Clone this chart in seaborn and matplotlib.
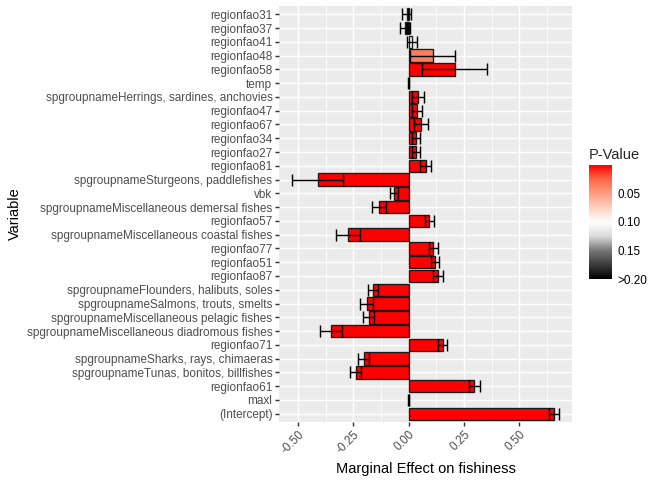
import numpy as np
import pandas as pd
import matplotlib
matplotlib.use("Agg")
import matplotlib.pyplot as plt
import seaborn as sns
from matplotlib.colors import LinearSegmentedColormap, Normalize
from matplotlib.cm import ScalarMappable

# ------------------------------------------------------------
# Data (top of the chart first)
# ------------------------------------------------------------
variables = [
    "regionfao31",
    "regionfao37",
    "regionfao41",
    "regionfao48",
    "regionfao58",
    "temp",
    "spgroupnameHerrings, sardines, anchovies",
    "regionfao47",
    "regionfao67",
    "regionfao34",
    "regionfao27",
    "regionfao81",
    "spgroupnameSturgeons, paddlefishes",
    "vbk",
    "spgroupnameMiscellaneous demersal fishes",
    "regionfao57",
    "spgroupnameMiscellaneous coastal fishes",
    "regionfao77",
    "regionfao51",
    "regionfao87",
    "spgroupnameFlounders, halibuts, soles",
    "spgroupnameSalmons, trouts, smelts",
    "spgroupnameMiscellaneous pelagic fishes",
    "spgroupnameMiscellaneous diadromous fishes",
    "regionfao71",
    "spgroupnameSharks, rays, chimaeras",
    "spgroupnameTunas, bonitos, billfishes",
    "regionfao61",
    "maxl",
    "(Intercept)",
]
estimates = [-0.008, -0.017, 0.016, 0.108, 0.209, 0.0, 0.041, 0.037, 0.055, 0.034,
             0.033, 0.076, -0.411, -0.066, -0.136, 0.094, -0.275, 0.111, 0.119, 0.132,
             -0.161, -0.189, -0.181, -0.353, 0.154, -0.204, -0.240, 0.296, 0.0, 0.656]
std_errors = [0.020, 0.022, 0.022, 0.102, 0.147, 0.001, 0.027, 0.022, 0.031, 0.019,
              0.017, 0.025, 0.115, 0.018, 0.032, 0.022, 0.055, 0.021, 0.020, 0.021,
              0.024, 0.029, 0.026, 0.050, 0.020, 0.025, 0.025, 0.025, 0.001, 0.022]
p_values = [0.60, 0.45, 0.10, 0.035, 0.0, 0.0, 0.0, 0.0, 0.0, 0.0,
            0.0, 0.0, 0.0, 0.0, 0.0, 0.0, 0.0, 0.0, 0.0, 0.0,
            0.0, 0.0, 0.0, 0.0, 0.0, 0.0, 0.0, 0.0, 0.0, 0.0]

df = pd.DataFrame({"Variable": variables, "Estimate": estimates,
                   "SE": std_errors, "P": p_values})

# red -> white -> black, roughly like ggplot's Lab gradient, p squished at 0.20
cmap = LinearSegmentedColormap.from_list("pval", [
    (0.0, "#FF0000"), (0.125, "#FF6846"), (0.25, "#FF9E82"), (0.375, "#FFD0BF"),
    (0.5, "#FFFFFF"), (0.625, "#DBDBDB"), (0.75, "#777777"), (0.875, "#3B3B3B"),
    (1.0, "#000000")])
norm = Normalize(0, 0.2)
palette = {v: cmap(norm(min(p, 0.2))) for v, p in zip(df["Variable"], df["P"])}

sns.set_theme(style="darkgrid")
plt.rcParams["font.family"] = ["Liberation Sans", "DejaVu Sans"]

fig = plt.figure(figsize=(7, 5), dpi=96)
ax = fig.add_axes([279 / 672, 1 - 422 / 480, (572 - 279) / 672, (422 - 6) / 480])
ax.set_facecolor("#EBEBEB")

sns.barplot(data=df, x="Estimate", y="Variable", hue="Variable", palette=palette,
            order=variables, orient="h", dodge=False, errorbar=None, legend=False,
            width=0.9, edgecolor="#1A1A1A", linewidth=1.0, saturation=1, ax=ax)

pos = np.arange(len(variables))
ax.errorbar(df["Estimate"], pos, xerr=df["SE"], fmt="none", ecolor="black",
            elinewidth=1.07, capsize=4.4, capthick=1.07, zorder=4)

# ggplot-like limits (5% expansion)
lo = min(0, (df["Estimate"] - df["SE"]).min())
hi = max(0, (df["Estimate"] + df["SE"]).max())
span = hi - lo
ax.set_xlim(lo - 0.05 * span, hi + 0.05 * span)
ax.set_ylim(len(variables) - 0.4, -0.6)

ax.set_xticks([-0.5, -0.25, 0.0, 0.25, 0.5])
ax.set_xticklabels(["-0.50", "-0.25", "0.00", "0.25", "0.50"], rotation=45,
                   ha="right", va="top", rotation_mode="anchor")
ax.set_xticks([-0.375, -0.125, 0.125, 0.375, 0.625], minor=True)
ax.set_axisbelow(True)
ax.grid(which="major", color="white", linewidth=1.07)
ax.grid(which="minor", axis="x", color="white", linewidth=0.53)
for s in ax.spines.values():
    s.set_visible(False)
ax.tick_params(axis="both", which="major", length=2.75, width=1.07, color="#333333",
               labelsize=8.8, labelcolor="#4D4D4D", pad=2.2, bottom=True, left=True)
ax.tick_params(axis="x", which="minor", length=0)

ax.set_xlabel("Marginal Effect on fishiness", fontsize=11, color="black", labelpad=4)
ax.set_ylabel("Variable", fontsize=11, color="black", labelpad=4)

# colour bar legend
cax = fig.add_axes([589 / 672, 1 - 279 / 480, 23 / 672, 114 / 480])
cb = fig.colorbar(ScalarMappable(norm=norm, cmap=cmap), cax=cax)
cb.outline.set_visible(False)
cax.invert_yaxis()
cb.set_ticks([0.05, 0.10, 0.15, 0.20])
cb.set_ticklabels(["0.05", "0.10", "0.15", ">0.20"])
cax.yaxis.set_ticks_position("both")
cax.tick_params(which="major", direction="in", length=3.4, width=0.5, color="white",
                labelsize=8.8, labelcolor="black", pad=4, left=True, right=True,
                labelleft=False, labelright=True)
cax.minorticks_off()
fig.text(589 / 672, 1 - 155 / 480, "P-Value", fontsize=11, ha="left", va="center")

fig.savefig("out.png", dpi=96)
